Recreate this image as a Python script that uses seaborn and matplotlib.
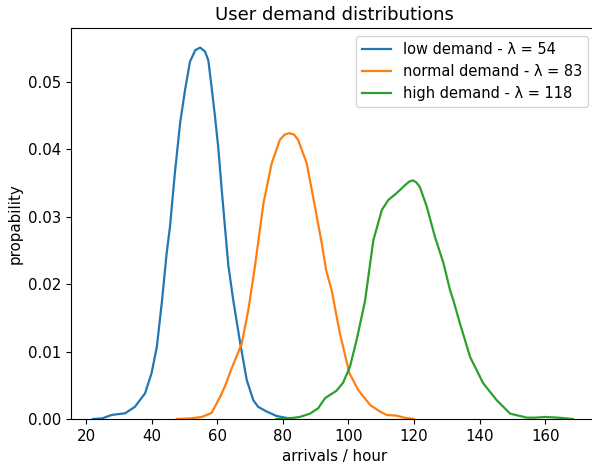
import matplotlib
matplotlib.use("Agg")
import matplotlib.pyplot as plt
import seaborn as sns
import pandas as pd

labels = ["low demand - λ = 54", "normal demand - λ = 83", "high demand - λ = 118"]

low_x = [22.1, 25.0, 27.8, 29.4, 31.9, 34.9, 38.0, 40.0, 41.6, 43.1, 44.6, 45.6, 47.1, 48.7, 50.2,
         51.7, 53.3, 54.8, 56.3, 57.3, 58.3, 59.3, 60.3, 61.4, 62.4, 63.4, 64.9, 67.0, 69.0, 71.0,
         72.5, 75.1, 78.1, 80.7, 83.1]
low_y = [0.0, 0.0001, 0.0006, 0.0007, 0.00084, 0.0018, 0.0038, 0.0068, 0.0107, 0.0172, 0.0246,
         0.0285, 0.0365, 0.0439, 0.0488, 0.0530, 0.0547, 0.0551, 0.0545, 0.0532, 0.0492, 0.0450,
         0.0404, 0.0339, 0.0283, 0.0228, 0.0176, 0.0113, 0.0058, 0.0028, 0.0018, 0.0011, 0.00045,
         0.0002, 0.0]

normal_x = [47.7, 52.0, 55.3, 58.3, 60.9, 62.5, 64.4, 67.5, 69.5, 71.5, 74.1, 76.6, 79.1, 80.6,
            82.0, 83.4, 84.7, 87.3, 89.8, 91.9, 93.2, 94.9, 97.4, 100.3, 103.0, 106.6, 109.6,
            111.7, 114.7, 117.0, 120.0]
normal_y = [0.0, 0.0001, 0.0003, 0.0009, 0.0033, 0.0050, 0.0075, 0.0112, 0.0162, 0.0226, 0.0320,
            0.0379, 0.0414, 0.0422, 0.0424, 0.0422, 0.0414, 0.0379, 0.0315, 0.0260, 0.0221,
            0.0191, 0.0127, 0.0068, 0.0043, 0.0021, 0.0011, 0.0006, 0.0005, 0.0002, 0.0]

high_x = [78.1, 82.0, 85.2, 88.3, 90.8, 92.9, 96.4, 98.4, 100.5, 102.5, 104.5, 105.1, 107.6, 110.2,
          112.2, 114.7, 117.3, 118.5, 119.6, 120.7, 121.8, 123.9, 126.4, 129.0, 131.0, 132.0,
          134.0, 137.1, 141.1, 145.2, 149.3, 154.4, 157.0, 160.0, 164.0, 168.4]
high_y = [0.0, 0.0001, 0.0003, 0.0008, 0.0016, 0.0031, 0.0042, 0.0054, 0.0078, 0.0117, 0.0162,
          0.0176, 0.0265, 0.0310, 0.0325, 0.0335, 0.0347, 0.0352, 0.0354, 0.0351, 0.0344,
          0.0315, 0.0270, 0.0231, 0.0191, 0.0176, 0.0142, 0.0092, 0.0053, 0.0028, 0.0008,
          0.0002, 0.0002, 0.0003, 0.0002, 0.0]

series = [(low_x, low_y), (normal_x, normal_y), (high_x, high_y)]
colors = ["#1f77b4", "#ff7f0e", "#2ca02c"]

plt.rcParams["font.size"] = 10.8

fig = plt.figure(figsize=(5.92, 4.70), dpi=100)
ax = fig.add_axes([71 / 592, 51 / 470, 527 / 592, 391 / 470])

for (xs, ys), lab, col in zip(series, labels, colors):
    df = pd.DataFrame({"x": xs, "y": ys})
    sns.lineplot(data=df, x="x", y="y", ax=ax, color=col, label=lab, linewidth=1.6)

ax.set_xlim(15.43, 176.1)
ax.set_ylim(0, 0.058)
ax.set_xticks([20, 40, 60, 80, 100, 120, 140, 160])
ax.set_yticks([0.0, 0.01, 0.02, 0.03, 0.04, 0.05])
ax.set_yticklabels(["0.00", "0.01", "0.02", "0.03", "0.04", "0.05"])
ax.set_title("User demand distributions", fontsize=13)
ax.set_xlabel("arrivals / hour")
ax.set_ylabel("propability")
ax.legend(loc="upper right", bbox_to_anchor=((588 - 71) / 527, 1 - 8 / 391),
          borderaxespad=0.0, fontsize=10.5)

fig.savefig("out.png", dpi=100)
